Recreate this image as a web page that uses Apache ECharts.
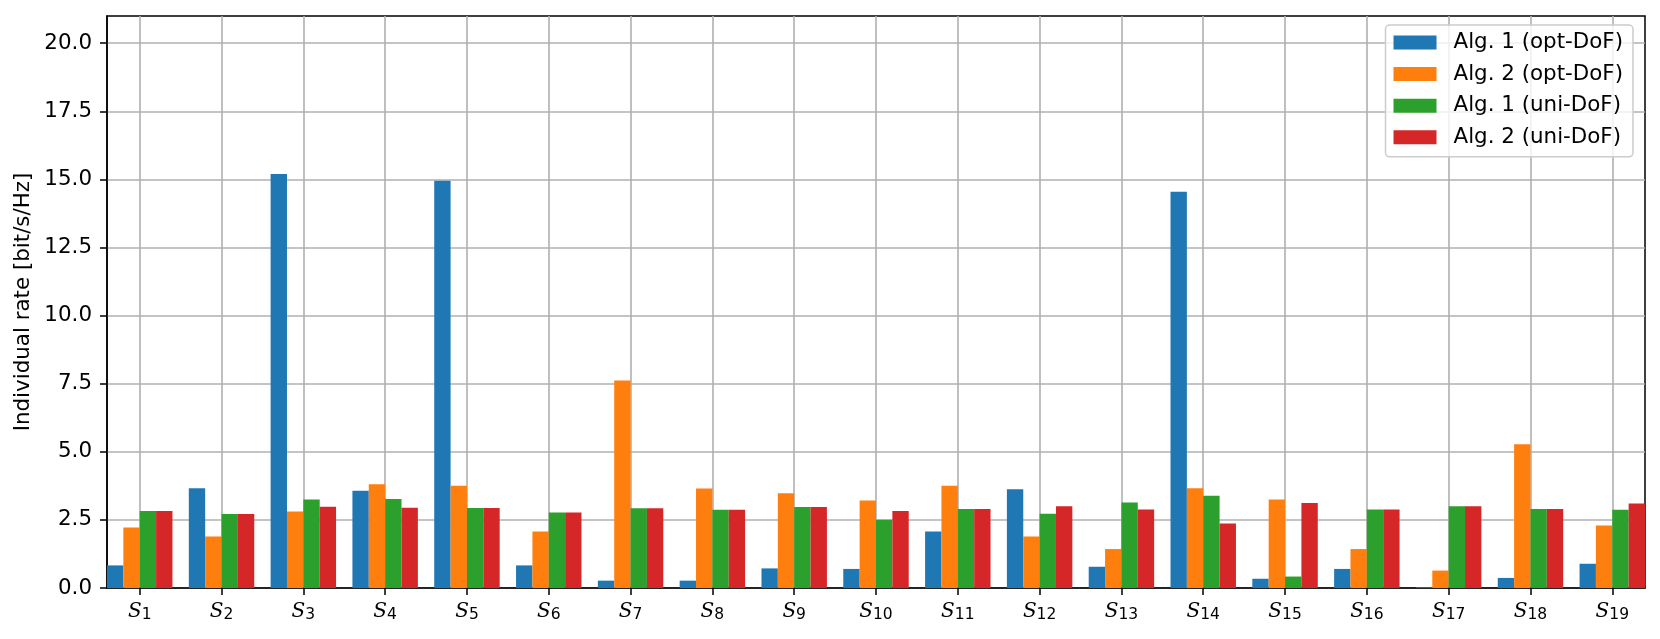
<!DOCTYPE html>
<html>
<head>
<meta charset="utf-8">
<script src="https://cdn.jsdelivr.net/npm/echarts@6/dist/echarts.min.js"></script>
<style>
  html, body { margin: 0; padding: 0; background: #fff; }
  #chart { width: 1660px; height: 639px; }
</style>
</head>
<body>
<div id="chart"></div>
<script>
var users = ["1", "2", "3", "4", "5", "6", "7", "8", "9", "10",
             "11", "12", "13", "14", "15", "16", "17", "18", "19"];
var seriesNames = ["Alg. 1 (opt-DoF)", "Alg. 2 (opt-DoF)", "Alg. 1 (uni-DoF)", "Alg. 2 (uni-DoF)"];
var alg1Opt = [0.83, 3.66, 15.2, 3.57, 14.95, 0.83, 0.27, 0.27, 0.72, 0.70,
               2.07, 3.63, 0.78, 14.55, 0.34, 0.70, 0.03, 0.37, 0.89];
var alg2Opt = [2.22, 1.89, 2.81, 3.81, 3.75, 2.07, 7.62, 3.65, 3.48, 3.21,
               3.75, 1.89, 1.43, 3.66, 3.25, 1.43, 0.64, 5.28, 2.29];
var alg1Uni = [2.83, 2.72, 3.25, 3.27, 2.94, 2.77, 2.93, 2.87, 2.97, 2.51,
               2.90, 2.73, 3.14, 3.39, 0.42, 2.88, 3.00, 2.90, 2.87];
var alg2Uni = [2.83, 2.72, 2.98, 2.95, 2.94, 2.77, 2.93, 2.87, 2.97, 2.83,
               2.90, 3.00, 2.88, 2.37, 3.12, 2.88, 3.00, 2.90, 3.10];
var yTicks = [0, 2.5, 5, 7.5, 10, 12.5, 15, 17.5, 20];
var colors = ["#1f77b4", "#ff7f0e", "#2ca02c", "#d62728"];

(function() {
    var chart = echarts.init(document.getElementById("chart"), null, { renderer: "canvas" }),
        left = 107, right = 15, top = 16, bottom = 51,
        xMin = -0.4, xMax = users.length - 1 + 0.4,
        plotW = 1660 - left - right,
        barW = plotW / (xMax - xMin) * 0.2,
        fs = 21.4,
        idx = users.map(function(u, i) { return i; });

    function pairs(arr) {
        return arr.map(function(v, i) { return [i, v]; });
    }

    var all = [alg1Opt, alg2Opt, alg1Uni, alg2Uni];
    var series = all.map(function(arr, k) {
        return {
            name: seriesNames[k],
            type: "bar",
            data: pairs(arr),
            barWidth: barW,
            barGap: "0%",
            itemStyle: { color: colors[k] }
        };
    });

    var option = {
        animation: false,
        backgroundColor: "#fff",
        textStyle: { fontFamily: "DejaVu Sans" },
        grid: {
            left: left, right: right, top: top, bottom: bottom,
            show: true, borderColor: "#000", borderWidth: 1.5
        },
        legend: {
            orient: "vertical",
            right: 27,
            top: 25,
            padding: [7, 10, 9, 8],
            itemWidth: 43,
            itemHeight: 14,
            itemGap: 10.6,
            icon: "rect",
            backgroundColor: "rgba(255,255,255,0.8)",
            borderColor: "#cccccc",
            borderWidth: 1.5,
            borderRadius: 4,
            textStyle: { fontSize: fs, color: "#000", fontFamily: "DejaVu Sans", lineHeight: 21, padding: [0, 0, 0, 12] },
            data: seriesNames
        },
        xAxis: {
            type: "value",
            min: xMin,
            max: xMax,
            axisLine: { show: true, onZero: false, lineStyle: { color: "#000", width: 1.5 } },
            axisTick: { show: true, length: 7, lineStyle: { color: "#000", width: 1.5 }, customValues: idx },
            splitLine: { show: true, lineStyle: { color: "#b0b0b0", width: 1.6 } },
            axisLabel: {
                customValues: idx,
                margin: 13,
                formatter: function(v) {
                    var i = Math.round(v);
                    return "{s|S}{n|" + users[i] + "}";
                },
                rich: {
                    s: { fontFamily: "DejaVu Serif", fontStyle: "italic", fontSize: 20, color: "#000", lineHeight: 22 },
                    n: { fontFamily: "DejaVu Sans", fontSize: 15.5, color: "#000", verticalAlign: "bottom", lineHeight: 8 }
                }
            }
        },
        yAxis: {
            type: "value",
            min: 0,
            max: 21,
            name: "Individual rate [bit/s/Hz]",
            nameLocation: "middle",
            nameGap: 69,
            nameTextStyle: { fontSize: fs, color: "#000", fontFamily: "DejaVu Sans" },
            axisLine: { show: true, onZero: false, lineStyle: { color: "#000", width: 1.5 } },
            axisTick: { show: true, length: 7, lineStyle: { color: "#000", width: 1.5 }, customValues: yTicks },
            splitLine: { show: true, lineStyle: { color: "#b0b0b0", width: 1.6 } },
            axisLabel: {
                customValues: yTicks,
                margin: 15,
                fontSize: fs,
                color: "#000",
                fontFamily: "DejaVu Sans",
                formatter: function(v) { return v.toFixed(1); }
            }
        },
        series: series
    };

    chart.setOption(option);
}());
</script>
</body>
</html>
